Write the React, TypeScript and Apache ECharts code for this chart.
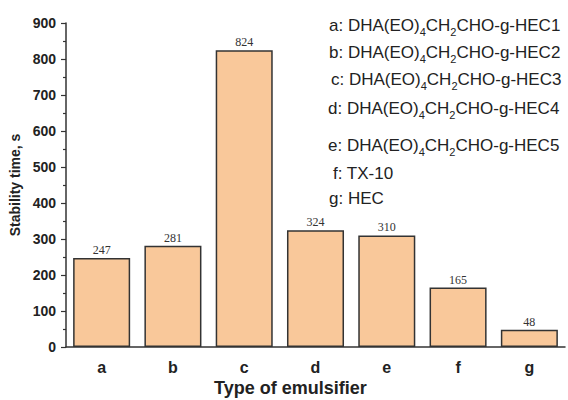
import React, { useEffect, useRef } from "react";
import * as echarts from "echarts";

const categories = ["a", "b", "c", "d", "e", "f", "g"];
const stabilityTime = [247, 281, 824, 324, 310, 165, 48];
const legendLines = [
  "a: DHA(EO){s|4}CH{s|2}CHO-g-HEC1",
  "b: DHA(EO){s|4}CH{s|2}CHO-g-HEC2",
  "c: DHA(EO){s|4}CH{s|2}CHO-g-HEC3",
  "d: DHA(EO){s|4}CH{s|2}CHO-g-HEC4",
  "e: DHA(EO){s|4}CH{s|2}CHO-g-HEC5",
  "f: TX-10",
  "g: HEC",
];
const legendY = [13, 40, 67, 96, 133, 161, 186];
const legendX = [329, 329, 331, 328, 328, 333, 329];

export default function App() {
  const ref = useRef<HTMLDivElement>(null);
  useEffect(() => {
    const chart = echarts.init(ref.current!, null, { renderer: "svg" });
    const axisColor = "#333";
    chart.setOption({
      animation: false,
      backgroundColor: "#fff",
      grid: { left: 66, right: 3, top: 23, bottom: 53, containLabel: false, outerBoundsMode: "none" },
      xAxis: [
        {
          type: "category",
          data: categories,
          axisLine: { lineStyle: { color: axisColor, width: 1.5 } },
          axisTick: { alignWithLabel: true, length: 5, lineStyle: { color: axisColor, width: 1.2 } },
          axisLabel: {
            color: "#222",
            fontWeight: "bold",
            fontSize: 16,
            fontFamily: "Liberation Sans, Arial",
            margin: 12,
          },
        },
        {
          type: "category",
          data: categories,
          position: "bottom",
          axisLine: { show: false },
          axisTick: { length: 3, lineStyle: { color: axisColor, width: 1.2 } },
          axisLabel: { show: false },
        },
      ],
      yAxis: {
        type: "value",
        min: 0,
        max: 900,
        interval: 100,
        name: "Stability time, s",
        nameLocation: "middle",
        nameGap: 42,
        nameTextStyle: {
          color: "#222",
          fontWeight: "bold",
          fontSize: 14,
          fontFamily: "Liberation Sans, Arial",
        },
        splitLine: { show: false },
        axisLine: { show: true, lineStyle: { color: axisColor, width: 1.5 } },
        axisTick: { show: true, length: 5, lineStyle: { color: axisColor, width: 1.2 } },
        minorTick: { show: true, splitNumber: 2, length: 3, lineStyle: { color: axisColor, width: 1.2 } },
        axisLabel: {
          color: "#222",
          fontWeight: "bold",
          fontSize: 14,
          fontFamily: "Liberation Sans, Arial",
          margin: 10,
        },
      },
      series: [
        {
          type: "bar",
          data: stabilityTime,
          barWidth: "80%",
          itemStyle: { color: "#F9C89A", borderColor: "#333", borderWidth: 1.5 },
          label: {
            show: true,
            position: "top",
            distance: 2,
            color: "#333",
            fontSize: 12,
            fontFamily: "Liberation Serif, Times New Roman",
          },
        },
      ],
      graphic: [
        {
          type: "text",
          left: 214,
          top: 379,
          style: {
            text: "Type of emulsifier",
            fill: "#222",
            font: "bold 18px 'Liberation Sans', Arial",
          },
        },
        ...legendLines.map((t, i) => ({
          type: "text",
          x: legendX[i],
          y: legendY[i],
          style: {
            text: t,
            fill: "#222",
            fontFamily: "Liberation Sans, Arial",
            fontSize: 17,
            lineHeight: 24,
            rich: {
              s: { fontSize: 11, lineHeight: 11, verticalAlign: "bottom", fontFamily: "Liberation Sans, Arial", fill: "#222" },
            },
          },
        })),
      ],
    });
    return () => chart.dispose();
  }, []);
  return <div ref={ref} style={{ width: 568, height: 400, position: "fixed", left: 0, top: 0 }} />;
}
